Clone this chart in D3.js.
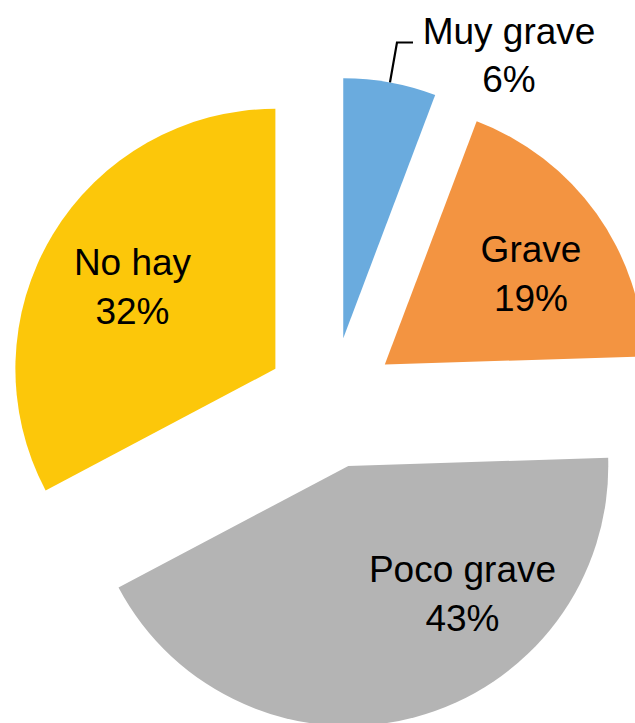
<!DOCTYPE html>
<html>
<head>
<meta charset="utf-8">
<script src="https://cdn.jsdelivr.net/npm/d3@7"></script>
<style>
  html, body { margin: 0; padding: 0; background: #ffffff; }
  svg { display: block; }
  text { font-family: "Liberation Sans", Arial, sans-serif; }
</style>
</head>
<body>
<script>
// ---- data ----
const categories = ["Muy grave", "Grave", "Poco grave", "No hay"];
const values = [5.75, 18.75, 42.75, 32.75];           // slice shares
const percentLabels = ["6%", "19%", "43%", "32%"];     // label text as printed
const colors = ["#6AABDE", "#F39441", "#B4B4B4", "#FCC70A"];

// ---- layout ----
const W = 635, H = 723;
const center = { x: 331.5, y: 402.6 };
const radius = 260;
const explode = 65.5;
const fontSize = 37;
const lineGap = 48.5;
const labelLayout = {
  "Muy grave":  { x: 509,   y: 43.5 },
  "Grave":      { x: 531,   y: 262 },
  "Poco grave": { x: 462.5, y: 582 },
  "No hay":     { x: 132.5, y: 275 }
};
const leader = { elbowDx: 7, y: 42.5, endX: 413 };

const svg = d3.select("body").append("svg")
  .attr("width", W).attr("height", H)
  .attr("viewBox", `0 0 ${W} ${H}`);

const pie = d3.pie().sort(null).value(d => d.value).startAngle(0).endAngle(2 * Math.PI);
const arc = d3.arc().innerRadius(0).outerRadius(radius);

const data = categories.map((c, i) => ({ cat: c, value: values[i], pct: percentLabels[i], color: colors[i] }));
const arcs = pie(data);

function offsetOf(a) {
  const mid = (a.startAngle + a.endAngle) / 2;
  return { dx: explode * Math.sin(mid), dy: -explode * Math.cos(mid), mid };
}

const g = svg.append("g").attr("transform", `translate(${center.x},${center.y})`);

g.selectAll("path.slice")
  .data(arcs)
  .join("path")
  .attr("class", "slice")
  .attr("d", arc)
  .attr("fill", d => d.data.color)
  .attr("transform", d => { const o = offsetOf(d); return `translate(${o.dx},${o.dy})`; });

// leader line for "Muy grave"
const mg = arcs[0];
const mo = offsetOf(mg);
const sx = center.x + mo.dx + radius * Math.sin(mo.mid);
const sy = center.y + mo.dy - radius * Math.cos(mo.mid);
svg.append("polyline")
  .attr("points", [[sx, sy], [sx + leader.elbowDx, leader.y], [leader.endX, leader.y]].map(p => p.join(",")).join(" "))
  .attr("fill", "none")
  .attr("stroke", "#000")
  .attr("stroke-width", 2.2);

// labels
const lbl = svg.selectAll("text.lbl")
  .data(arcs)
  .join("text")
  .attr("class", "lbl")
  .attr("text-anchor", "middle")
  .attr("font-size", fontSize)
  .attr("fill", "#000");

lbl.append("tspan")
  .attr("x", d => labelLayout[d.data.cat].x)
  .attr("y", d => labelLayout[d.data.cat].y)
  .text(d => d.data.cat);
lbl.append("tspan")
  .attr("x", d => labelLayout[d.data.cat].x)
  .attr("y", d => labelLayout[d.data.cat].y + lineGap)
  .text(d => d.data.pct);
</script>
</body>
</html>
